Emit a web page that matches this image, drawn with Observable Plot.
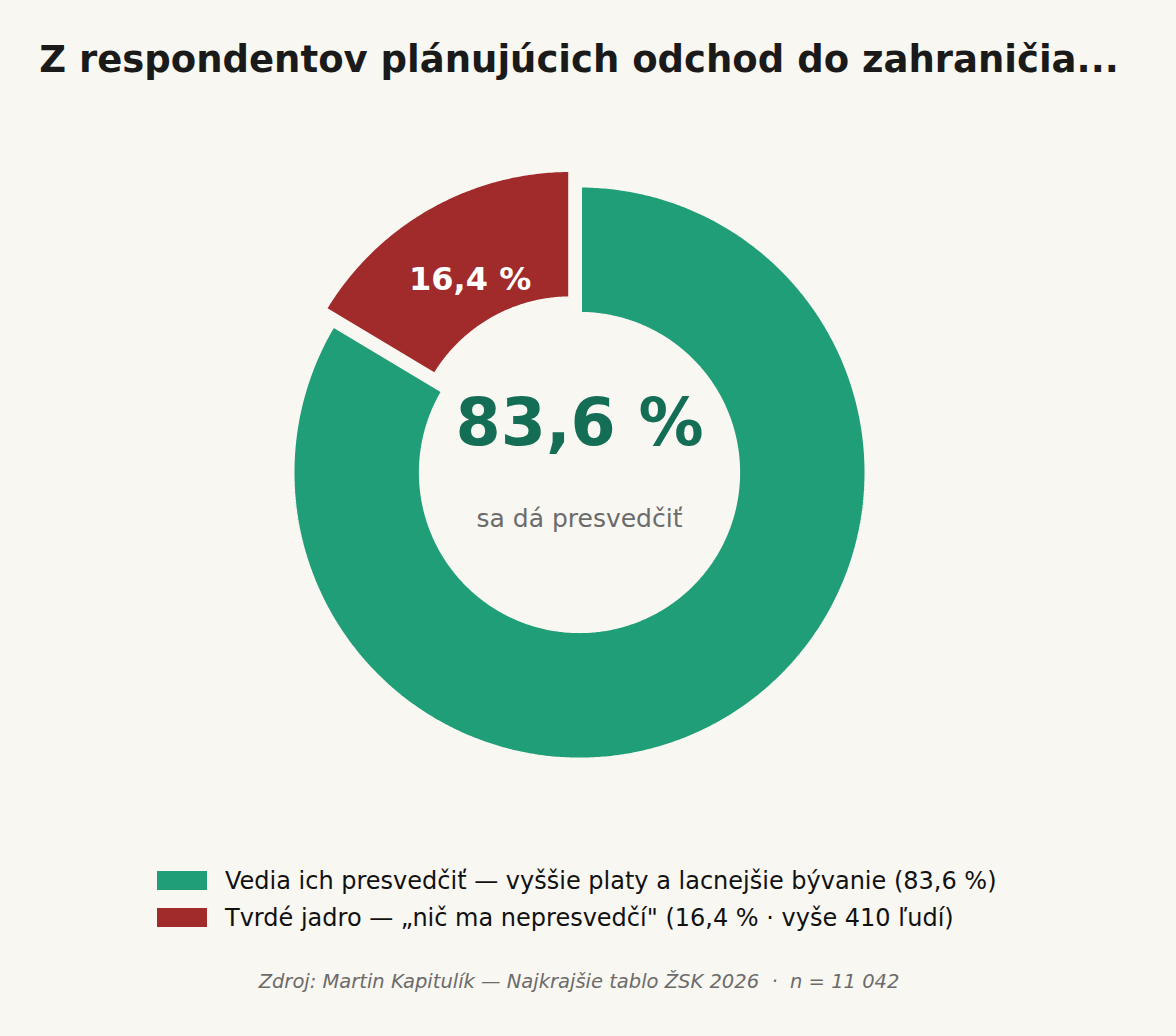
<!DOCTYPE html>
<html>
<head>
<meta charset="utf-8">
<script src="https://cdn.jsdelivr.net/npm/d3@7"></script>
<script src="https://cdn.jsdelivr.net/npm/@observablehq/plot@0.6"></script>
<style>
  html, body { margin: 0; padding: 0; background: #f9f7f1; }
  body { width: 1176px; height: 1036px; font-family: "DejaVu Sans", sans-serif; position: relative; overflow: hidden; }
  #title { position: absolute; top: 36px; left: 0; width: 1158px; text-align: center; font-size: 37px; font-weight: bold; color: #1a1a1a; line-height: 48px; white-space: nowrap; }
  #chart { position: absolute; top: 110px; left: 0; }
  #legend { position: absolute; top: 862px; left: 157px; }
  .row { display: flex; align-items: center; height: 37px; font-size: 24px; color: #111; white-space: nowrap; }
  .sw { width: 50px; height: 19px; margin-right: 18px; flex: none; }
  #caption { position: absolute; top: 970px; left: 0; width: 1158px; text-align: center; font-size: 19.5px; font-style: italic; color: #6b6b6b; white-space: pre; }
</style>
</head>
<body>
<div id="title"></div>
<div id="chart"></div>
<div id="legend"></div>
<div id="caption"></div>
<script>
const titleText = "Z respondentov plánujúcich odchod do zahraničia...";
const categories = ["Vedia ich presvedčiť", "Tvrdé jadro"];
const shares = [83.6, 16.4];
const colors = ["#1f9e77", "#a12a2b"];
const explode = [0, 0.062];
const sliceLabels = ["", "16,4 %"];
const legendLabels = [
  "Vedia ich presvedčiť — vyššie platy a lacnejšie bývanie (83,6 %)",
  "Tvrdé jadro — „nič ma nepresvedčí\" (16,4 % · vyše 410 ľudí)"
];
const centerValue = "83,6 %";
const centerSub = "sa dá presvedčiť";
const captionText = "Zdroj: Martin Kapitulík — Najkrajšie tablo ŽSK 2026  ·  n = 11 042";

document.getElementById("title").textContent = titleText;
document.getElementById("caption").textContent = captionText;

const innerR = 0.55, outerR = 1;
const total = d3.sum(shares);
// angles clockwise from 12 o'clock
const pts = [];
const labelPts = [];
let acc = 0;
categories.forEach((c, i) => {
  const a0 = acc / total * 2 * Math.PI;
  acc += shares[i];
  const a1 = acc / total * 2 * Math.PI;
  const mid = (a0 + a1) / 2;
  const ox = explode[i] * Math.sin(mid), oy = explode[i] * Math.cos(mid);
  const n = Math.max(2, Math.ceil((a1 - a0) / (Math.PI / 360)));
  for (let k = 0; k <= n; k++) {
    const a = a0 + (a1 - a0) * k / n;
    pts.push({cat: c, x: ox + outerR * Math.sin(a), y: oy + outerR * Math.cos(a)});
  }
  for (let k = n; k >= 0; k--) {
    const a = a0 + (a1 - a0) * k / n;
    pts.push({cat: c, x: ox + innerR * Math.sin(a), y: oy + innerR * Math.cos(a)});
  }
  if (sliceLabels[i]) {
    const r = 0.772;
    labelPts.push({label: sliceLabels[i], x: r * Math.sin(mid), y: r * Math.cos(mid)});
  }
});

const unit = 287.5;
const W = 1176, H = 730, cx = 579, cy = 362;
const chart = Plot.plot({
  width: W, height: H,
  margin: 0,
  style: {background: "transparent", fontFamily: "DejaVu Sans, sans-serif"},
  x: {domain: [-cx / unit, (W - cx) / unit], axis: null},
  y: {domain: [-(H - cy) / unit, cy / unit], axis: null},
  color: {domain: categories, range: colors},
  marks: [
    Plot.line(pts, {x: "x", y: "y", z: "cat", fill: "cat", stroke: "#f9f7f1", strokeWidth: 5, curve: "linear-closed", strokeLinejoin: "miter"}),
    Plot.text(labelPts, {x: "x", y: "y", text: "label", fill: "#ffffff", fontSize: 32, fontWeight: "bold"}),
    Plot.text([centerValue], {x: () => 0, y: () => 0.167, text: d => d, fill: "#136e55", fontSize: 65, fontWeight: "bold"}),
    Plot.text([centerSub], {x: () => 0, y: () => -0.16, text: d => d, fill: "#6b6b6b", fontSize: 25})
  ]
});
document.getElementById("chart").appendChild(chart);

const legend = document.getElementById("legend");
legendLabels.forEach((t, i) => {
  const row = document.createElement("div");
  row.className = "row";
  const sw = document.createElement("div");
  sw.className = "sw";
  sw.style.background = colors[i];
  const sp = document.createElement("span");
  sp.textContent = t;
  row.appendChild(sw); row.appendChild(sp);
  legend.appendChild(row);
});
</script>
</body>
</html>
